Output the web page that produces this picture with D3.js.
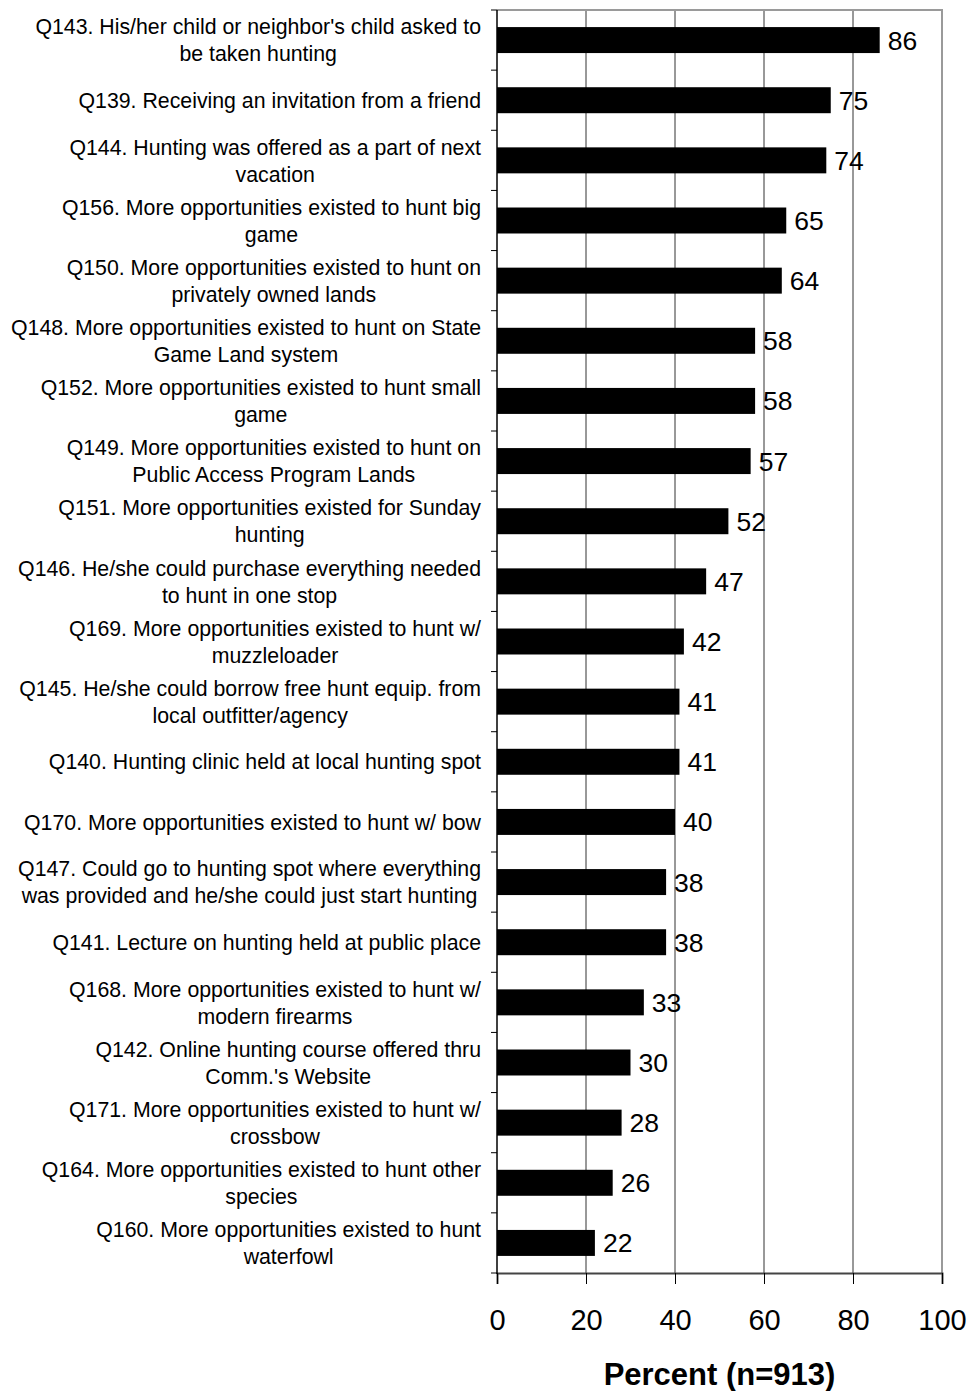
<!DOCTYPE html>
<html>
<head>
<meta charset="utf-8">
<script src="https://cdn.jsdelivr.net/npm/d3@7"></script>
<style>
  html, body { margin: 0; padding: 0; background: #fff; }
  svg { display: block; font-family: "Liberation Sans", Arial, sans-serif; }
</style>
</head>
<body>
<script>
// Reasons that would increase hunting participation, top to bottom
const categories = [
  "Q143", "Q139", "Q144", "Q156", "Q150", "Q148", "Q152", "Q149", "Q151", "Q146", "Q169",
  "Q145", "Q140", "Q170", "Q147", "Q141", "Q168", "Q142", "Q171", "Q164", "Q160"
];

const labelLines = [
  ["Q143. His/her child or neighbor's child asked to", "be taken hunting"],
  ["Q139. Receiving an invitation from a friend"],
  ["Q144. Hunting was offered as a part of next", "vacation"],
  ["Q156. More opportunities existed to hunt big", "game"],
  ["Q150. More opportunities existed to hunt on", "privately owned lands"],
  ["Q148. More opportunities existed to hunt on State", "Game Land system"],
  ["Q152. More opportunities existed to hunt small", "game"],
  ["Q149. More opportunities existed to hunt on", "Public Access Program Lands"],
  ["Q151. More opportunities existed for Sunday", "hunting"],
  ["Q146. He/she could purchase everything needed", "to hunt in one stop"],
  ["Q169. More opportunities existed to hunt w/", "muzzleloader"],
  ["Q145. He/she could borrow free hunt equip. from", "local outfitter/agency"],
  ["Q140. Hunting clinic held at local hunting spot"],
  ["Q170. More opportunities existed to hunt w/ bow"],
  ["Q147. Could go to hunting spot where everything", "was provided and he/she could just start hunting"],
  ["Q141. Lecture on hunting held at public place"],
  ["Q168. More opportunities existed to hunt w/", "modern firearms"],
  ["Q142. Online hunting course offered thru", "Comm.'s Website"],
  ["Q171. More opportunities existed to hunt w/", "crossbow"],
  ["Q164. More opportunities existed to hunt other", "species"],
  ["Q160. More opportunities existed to hunt", "waterfowl"]
];

const percents = [86, 75, 74, 65, 64, 58, 58, 57, 52, 47, 42, 41, 41, 40, 38, 38, 33, 30, 28, 26, 22];

const xTicks = [0, 20, 40, 60, 80, 100];
const gridValues = [20, 40, 60, 80];
const axisTitle = "Percent (n=913)";

const W = 968, H = 1391;
const plot = { left: 497, right: 942, top: 10, bottom: 1273 };

const svg = d3.select("body").append("svg")
  .attr("width", W).attr("height", H);

const x = d3.scaleLinear().domain([0, 100]).range([plot.left, plot.right]);
const y = d3.scaleBand().domain(categories)
  .range([plot.top, plot.bottom])
  .paddingInner(0.568).paddingOuter(0.284);

// vertical gridlines
svg.append("g").selectAll("line").data(gridValues).join("line")
  .attr("x1", d => x(d)).attr("x2", d => x(d))
  .attr("y1", plot.top).attr("y2", plot.bottom)
  .attr("stroke", "#333").attr("stroke-width", 1);

// plot frame: top and right edges
svg.append("line")
  .attr("x1", plot.left).attr("x2", plot.right)
  .attr("y1", plot.top).attr("y2", plot.top)
  .attr("stroke", "#9a9a9a").attr("stroke-width", 2);
svg.append("line")
  .attr("x1", plot.right).attr("x2", plot.right)
  .attr("y1", plot.top - 1).attr("y2", plot.bottom)
  .attr("stroke", "#9a9a9a").attr("stroke-width", 2);

// bars
svg.append("g").selectAll("rect").data(percents).join("rect")
  .attr("x", x(0))
  .attr("y", (d, i) => y(categories[i]))
  .attr("width", d => x(d) - x(0))
  .attr("height", y.bandwidth())
  .attr("fill", "#000");

// value labels
svg.append("g").selectAll("text").data(percents).join("text")
  .attr("x", d => x(d) + 8)
  .attr("y", (d, i) => y(categories[i]) + y.bandwidth() / 2)
  .attr("dy", "0.36em")
  .attr("font-size", 26.5)
  .attr("fill", "#000")
  .text(d => d);

// bottom axis
const xAxis = d3.axisBottom(x).tickValues(xTicks).tickSize(11).tickPadding(25).tickFormat(d3.format("d"));
const gx = svg.append("g").attr("transform", `translate(0,${plot.bottom})`).call(xAxis);
gx.select(".domain").attr("stroke", "#444").attr("stroke-width", 2);
gx.selectAll(".tick line").attr("stroke", "#000").attr("stroke-width", 1);
gx.selectAll(".tick text")
  .attr("font-size", 29)
  .attr("font-family", "Liberation Sans, Arial, sans-serif")
  .attr("fill", "#000");

// left axis with tick marks between categories
const step = y.step();
const boundaries = d3.range(categories.length + 1).map(i => plot.top + i * step);
svg.append("line")
  .attr("x1", plot.left).attr("x2", plot.left)
  .attr("y1", plot.top).attr("y2", plot.bottom + 1)
  .attr("stroke", "#000").attr("stroke-width", 1.5);
svg.append("g").selectAll("line").data(boundaries).join("line")
  .attr("x1", plot.left - 6).attr("x2", plot.left)
  .attr("y1", d => d).attr("y2", d => d)
  .attr("stroke", "#000").attr("stroke-width", 1);

// category labels: centered lines, block right-aligned to the axis
const lineGap = 27;
const labelRight = 481;
const lg = svg.append("g").attr("font-size", 21.3).attr("fill", "#000");
labelLines.forEach((lines, i) => {
  const cy = y(categories[i]) + y.bandwidth() / 2;
  const t = lg.append("text").attr("text-anchor", "middle");
  const spans = lines.map((s, k) => t.append("tspan")
    .attr("y", cy + (k - (lines.length - 1) / 2) * lineGap)
    .attr("dy", "0.36em")
    .text(s));
  const widths = spans.map(sp => sp.node().getComputedTextLength());
  const maxW = d3.max(widths);
  spans.forEach(sp => sp.attr("x", labelRight - maxW / 2));
});

// axis title
svg.append("text")
  .attr("x", (plot.left + plot.right) / 2)
  .attr("y", 1385)
  .attr("text-anchor", "middle")
  .attr("font-size", 31)
  .attr("font-weight", "bold")
  .attr("fill", "#000")
  .text(axisTitle);
</script>
</body>
</html>
